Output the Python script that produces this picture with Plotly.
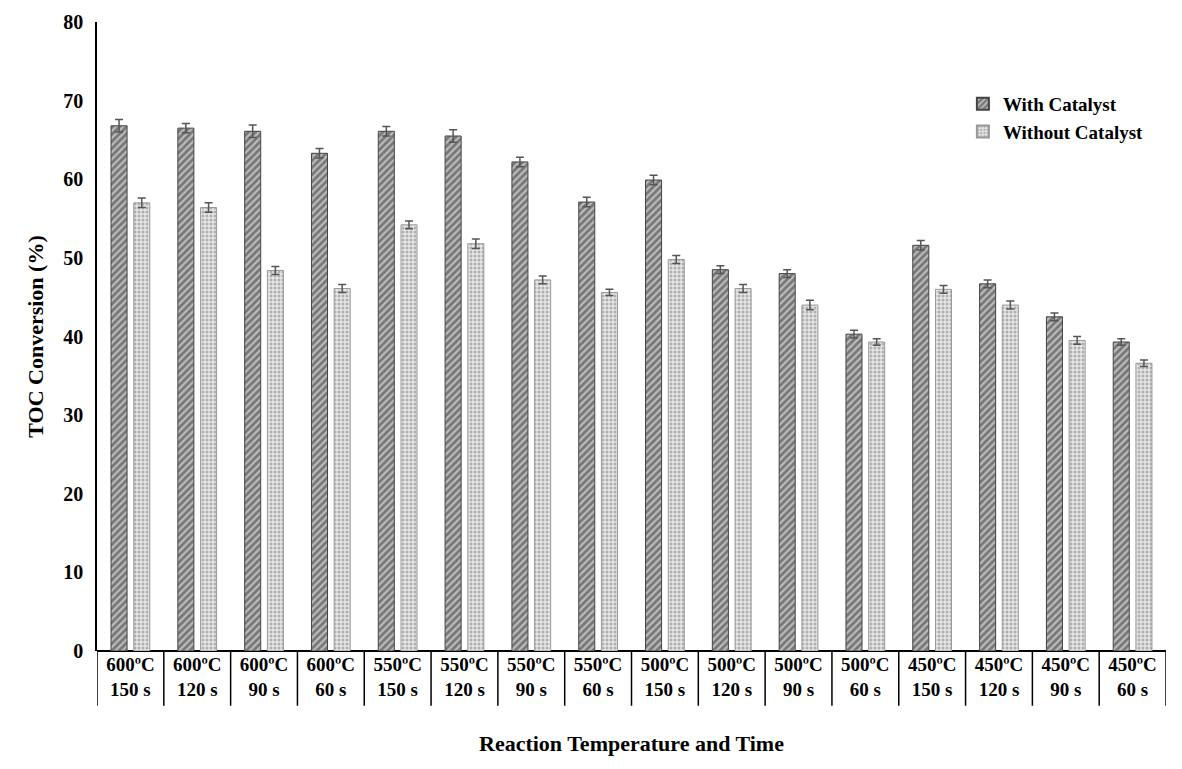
import plotly.graph_objects as go

# ---------------------------
# DATA
# ---------------------------
temps = ["600ºC"] * 4 + ["550ºC"] * 4 + ["500ºC"] * 4 + ["450ºC"] * 4
times = ["150 s", "120 s", "90 s", "60 s"] * 4
con_cat = [66.8, 66.5, 66.1, 63.3, 66.1, 65.5, 62.2, 57.1, 59.9, 48.5, 48.0, 40.3, 51.6, 46.7, 42.5, 39.3]
sin_cat = [57.0, 56.4, 48.4, 46.1, 54.2, 51.8, 47.2, 45.6, 49.8, 46.1, 44.0, 39.3, 46.0, 44.0, 39.5, 36.6]
err_con = [0.8, 0.6, 0.8, 0.6, 0.6, 0.8, 0.6, 0.6, 0.6, 0.5, 0.5, 0.5, 0.6, 0.5, 0.5, 0.4]
err_sin = [0.6, 0.6, 0.5, 0.5, 0.5, 0.6, 0.5, 0.4, 0.5, 0.5, 0.6, 0.4, 0.5, 0.5, 0.5, 0.4]

x = list(range(len(temps)))
etiquetas = [f"{t}<br>{s}" for t, s in zip(temps, times)]
fuente = "Liberation Serif"

fig = go.Figure()

fig.add_trace(go.Bar(
    x=x, y=con_cat, name="<b>With Catalyst</b>",
    width=0.24, offset=-0.29,
    marker=dict(color="white", line=dict(color="#444", width=1),
                pattern=dict(shape="/", fgcolor="#333", bgcolor="#bbbbbb", size=5, solidity=0.55)),
    error_y=dict(type="data", array=err_con, color="#555", thickness=1.5, width=4),
))
fig.add_trace(go.Bar(
    x=x, y=sin_cat, name="<b>Without Catalyst</b>",
    width=0.24, offset=0.05,
    marker=dict(color="white", line=dict(color="#999", width=1),
                pattern=dict(shape=".", fgcolor="#777", bgcolor="#e6e6e6", size=4, solidity=0.45)),
    error_y=dict(type="data", array=err_sin, color="#555", thickness=1.5, width=4),
))

# Lineas verticales de la tabla de categorias
for k in range(len(x) + 1):
    fig.add_shape(type="line", xref="x", yref="paper",
                  x0=k - 0.5, x1=k - 0.5, y0=0, y1=-0.087,
                  line=dict(color="black", width=1.5))

fig.update_layout(
    width=1182, height=769,
    paper_bgcolor="white", plot_bgcolor="white",
    margin=dict(l=89, r=24, t=14, b=126),
    barmode="overlay",
    font=dict(family=fuente, color="black", size=17),
    legend=dict(x=0.81, y=0.9, xanchor="left", yanchor="top",
                font=dict(size=19, family=fuente), bgcolor="rgba(0,0,0,0)",
                itemsizing="constant", tracegroupgap=4),
    xaxis=dict(
        range=[-0.5, len(x) - 0.5], tickmode="array", tickvals=x,
        ticktext=[f"<b>{e}</b>" for e in etiquetas],
        showline=False, ticks="", tickfont=dict(size=19), automargin=False,
        title=dict(text="<b>Reaction Temperature and Time</b>", font=dict(size=22), standoff=36),
    ),
    yaxis=dict(
        range=[0, 80], dtick=10, showgrid=False, zeroline=True,
        zerolinecolor="black", zerolinewidth=1.5, automargin=False,
        showline=True, linecolor="black", linewidth=1.5,
        tickfont=dict(size=20), tickprefix="<b>", ticksuffix="</b>", ticklabelstandoff=8,
        title=dict(text="<b>TOC Conversion (%)</b>", font=dict(size=22), standoff=14),
    ),
)

fig.write_html("out.html")
